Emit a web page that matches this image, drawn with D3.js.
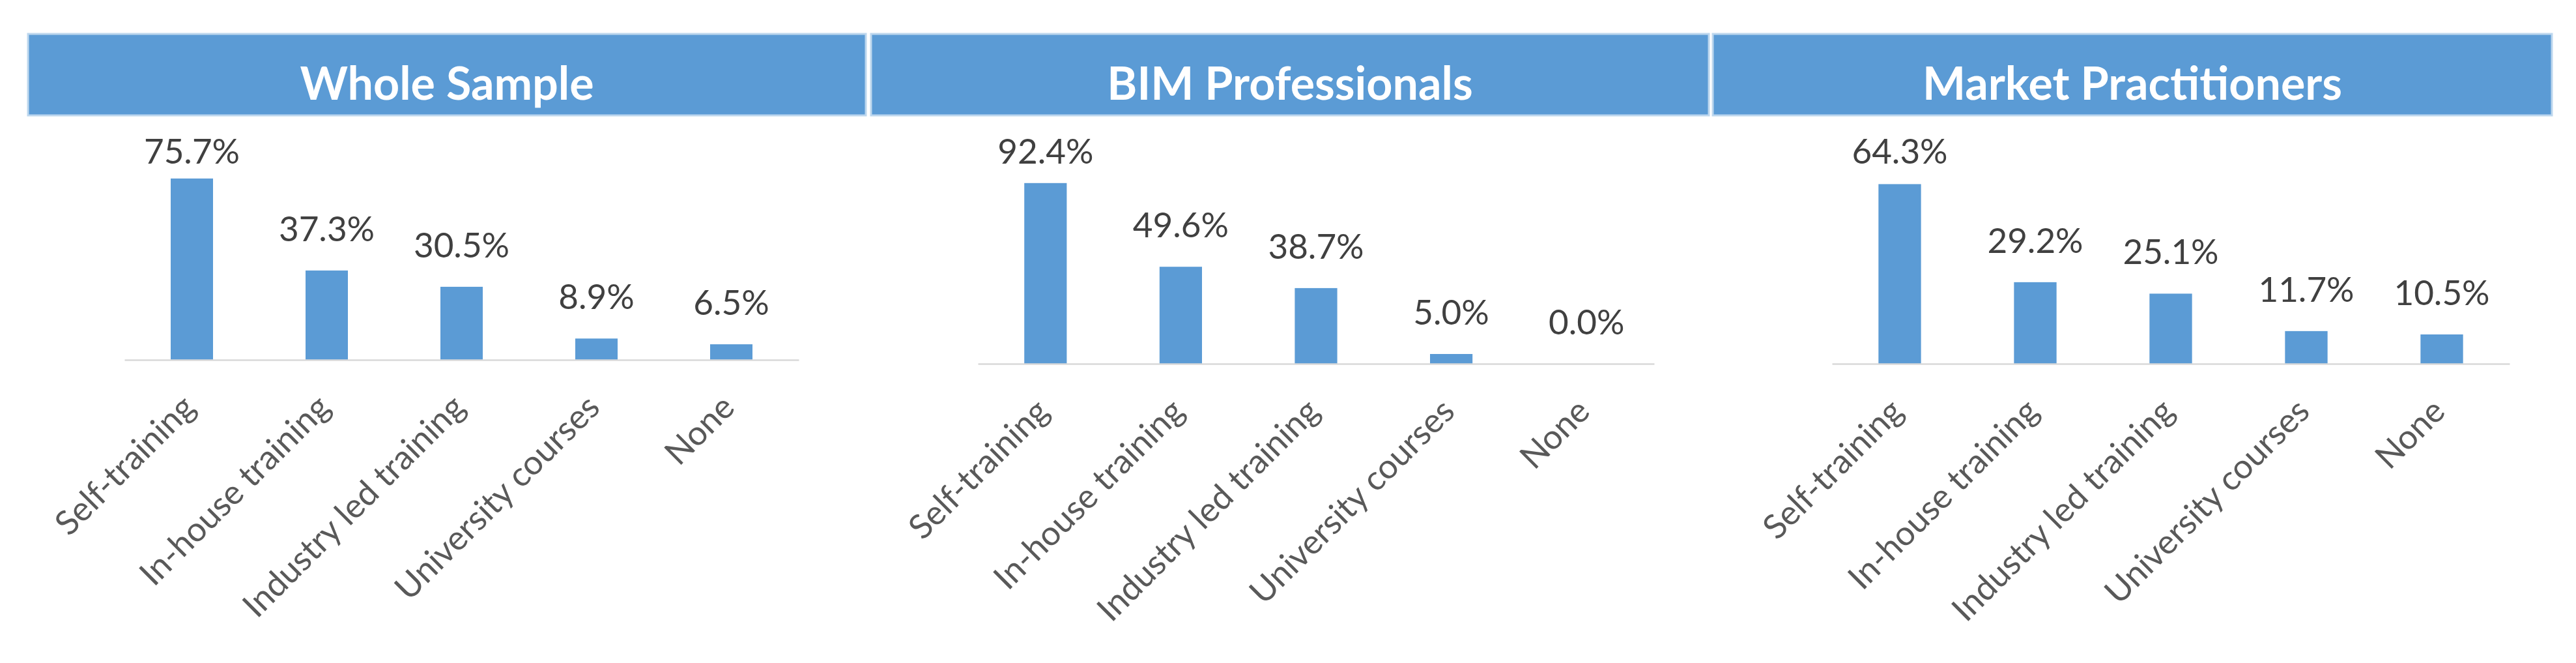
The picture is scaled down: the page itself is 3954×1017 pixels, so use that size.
<!DOCTYPE html>
<html>
<head>
<meta charset="utf-8">
<script src="https://cdn.jsdelivr.net/npm/d3@7"></script>
<style>
  body { margin: 0; background: #fff; }
  svg { display: block; }
</style>
</head>
<body>
<div id="container"></div>
<script>
/* CONSTANTS AND GLOBALS */
const width = 3954,
  height = 1017;

// DATA
const categories = ["Self-training", "In-house training", "Industry led training", "University courses", "None"];
const panelTitles = ["Whole Sample", "BIM Professionals", "Market Practitioners"];
const wholeSample = [0.757, 0.373, 0.305, 0.089, 0.065];
const bimProfessionals = [0.924, 0.496, 0.387, 0.050, 0.000];
const marketPractitioners = [0.643, 0.292, 0.251, 0.117, 0.105];
const axisMax = [0.8, 1.0, 0.7];

// LAYOUT (header box, plot extent, baseline) per panel
const layout = [
  { hx0: 43, hx1: 1329, ax0: 191, ax1: 1226, base: 552 },
  { hx0: 1337, hx1: 2623, ax0: 1501, ax1: 2539, base: 558 },
  { hx0: 2629, hx1: 3917, ax0: 2812, ax1: 3852, base: 558 }
];
const headerTop = 52, headerBottom = 177, plotTop = 258, labelMinY = 251;
const barColor = "#5B9BD5";

const series = [wholeSample, bimProfessionals, marketPractitioners];

const svg = d3.select("#container")
  .append("svg")
  .attr("width", width)
  .attr("height", height);

series.forEach((values, i) => {
  const L = layout[i];
  const g = svg.append("g").attr("class", "panel");

  // HEADER
  g.append("rect")
    .attr("x", L.hx0)
    .attr("y", headerTop)
    .attr("width", L.hx1 - L.hx0)
    .attr("height", headerBottom - headerTop)
    .attr("fill", barColor)
    .attr("stroke", "#BDD7EE")
    .attr("stroke-width", 3);

  g.append("text")
    .attr("x", (L.hx0 + L.hx1) / 2)
    .attr("y", 153)
    .attr("text-anchor", "middle")
    .style("font-family", "Lato, 'Open Sans', sans-serif")
    .style("font-size", "70px")
    .style("font-weight", "bold")
    .style("fill", "#fff")
    .text(panelTitles[i]);

  // SCALES
  const x = d3.scaleBand()
    .domain(categories)
    .range([L.ax0, L.ax1])
    .paddingInner(0.686)
    .paddingOuter(0.343);

  const y = d3.scaleLinear()
    .domain([0, axisMax[i]])
    .range([L.base, plotTop]);

  // BARS
  g.selectAll("rect.bar")
    .data(values)
    .join("rect")
    .attr("class", "bar")
    .attr("x", (d, j) => x(categories[j]))
    .attr("y", d => y(d))
    .attr("width", x.bandwidth())
    .attr("height", d => y(0) - y(d))
    .attr("fill", barColor);

  // AXIS
  const xAxis = g.append("g")
    .attr("transform", `translate(0, ${L.base})`)
    .call(d3.axisBottom(x).tickSize(0).tickSizeOuter(0));

  xAxis.select(".domain")
    .attr("stroke", "#D9D9D9")
    .attr("stroke-width", 2.5);

  xAxis.selectAll(".tick text")
    .attr("x", 0)
    .attr("y", 0)
    .attr("dy", 0)
    .attr("transform", "translate(8, 76) rotate(-45)")
    .attr("text-anchor", "end")
    .style("font-family", "Lato, 'Open Sans', sans-serif")
    .style("font-size", "52px")
    .style("fill", "#595959");

  // VALUE LABELS
  g.selectAll("text.value")
    .data(values)
    .join("text")
    .attr("class", "value")
    .attr("x", (d, j) => x(categories[j]) + x.bandwidth() / 2)
    .attr("y", d => Math.max(y(d) - 45, labelMinY))
    .attr("text-anchor", "middle")
    .style("font-family", "Lato, 'Open Sans', sans-serif")
    .style("font-size", "53px")
    .style("fill", "#404040")
    .text(d => (d * 100).toFixed(1) + "%");
});
</script>
</body>
</html>
